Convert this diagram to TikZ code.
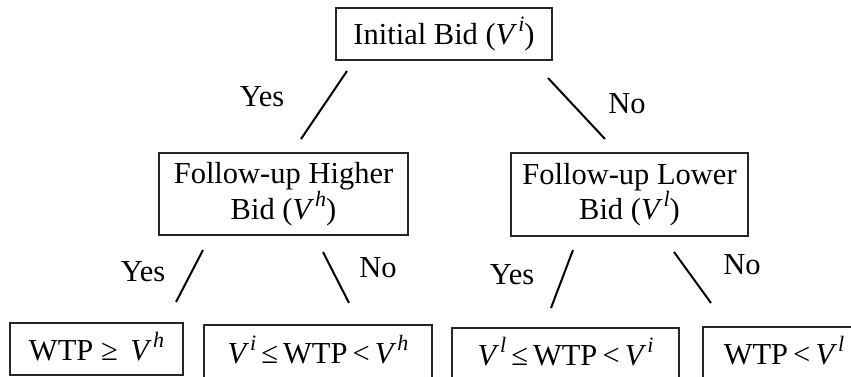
\documentclass[tikz,border=0pt]{standalone}
\usepackage{fontspec}
\setmainfont{Liberation Serif}
\newcommand{\sv}[1]{\textit{V}\kern1pt\raisebox{0.42em}{\fontsize{22}{22}\selectfont\textit{#1}}}
\begin{document}
\begin{tikzpicture}[x=1pt,y=-1pt,
  box/.style={draw=black!85,line width=1.2pt,inner sep=0pt,align=center,
    font=\fontsize{30.5}{33}\selectfont},
  conn/.style={line width=2pt,black},
  lab/.style={font=\fontsize{30.5}{33}\selectfont,inner sep=0pt}]
\useasboundingbox (0,0) rectangle (851,376);
\node[box,minimum width=216pt,minimum height=52pt] (top) at (444,34) {Initial Bid (\sv{i})};
\node[box,minimum width=249pt,minimum height=82pt] (lm) at (283.5,194) {Follow-up Higher\\Bid (\sv{h})};
\node[box,minimum width=237pt,minimum height=83pt] (rm) at (629.5,194.5) {Follow-up Lower\\Bid (\sv{l})};
\node[box,minimum width=173pt,minimum height=52pt] (b1) at (96.5,349) {\raisebox{5pt}{WTP ≥ \,\sv{h}}};
\node[box,minimum width=228pt,minimum height=54pt] (b2) at (318,352) {\raisebox{6pt}{\sv{i}\,≤\,WTP\,<\,\sv{h}}};
\node[box,minimum width=227pt,minimum height=53pt] (b3) at (565.5,354.5) {\raisebox{6pt}{\sv{l}\,≤\,WTP\,<\,\sv{i}}};
\node[box,minimum width=162pt,minimum height=53pt] (b4) at (784,353.5) {\raisebox{6pt}{WTP\,<\,\sv{l}}};
% connector ends
\coordinate (a1) at (347,71);  \coordinate (a2) at (301,139);
\coordinate (n1) at (548,78);  \coordinate (n2) at (605,139);
\coordinate (c1) at (203,250); \coordinate (c2) at (176,302);
\coordinate (d1) at (323,252); \coordinate (d2) at (349,303);
\coordinate (e1) at (573,250); \coordinate (e2) at (551,308);
\coordinate (f1) at (674,252); \coordinate (f2) at (711,303);
\draw[conn] (a1) -- (a2);
\draw[conn] (n1) -- (n2);
\draw[conn] (c1) -- (c2);
\draw[conn] (d1) -- (d2);
\draw[conn] (e1) -- (e2);
\draw[conn] (f1) -- (f2);
\node[lab] (y1) at (262,97) {Yes};
\node[lab] (o1) at (627,104) {No};
\node[lab] (y2) at (143,272) {Yes};
\node[lab] (o2) at (378,268) {No};
\node[lab] (y3) at (512,275) {Yes};
\node[lab] (o3) at (742,265) {No};
\end{tikzpicture}
\end{document}
